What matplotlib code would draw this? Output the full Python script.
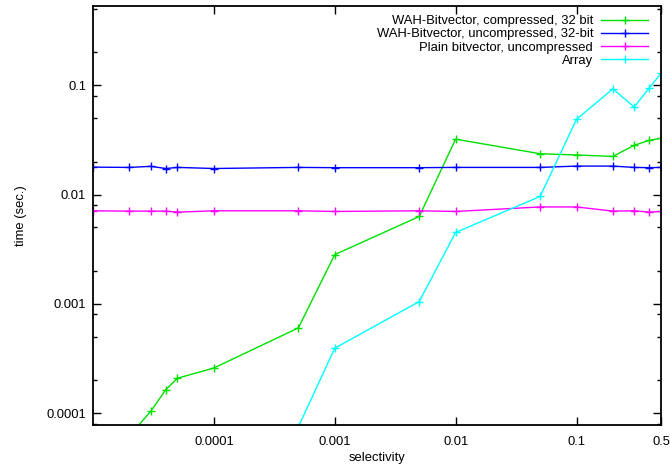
import numpy as np
import matplotlib
matplotlib.use('Agg')
from matplotlib import pyplot as plt
from matplotlib.ticker import FixedLocator, NullFormatter

####################################
#              data                #
####################################
sel = [1e-5, 2e-5, 3e-5, 4e-5, 5e-5, 1e-4, 5e-4, 1e-3, 5e-3, 1e-2,
       5e-2, 0.1, 0.2, 0.3, 0.4, 0.5]

wah_comp = [3.0e-5, 6.2e-5, 1.04e-4, 1.64e-4, 2.09e-4, 2.59e-4, 6.03e-4, 2.82e-3,
            6.3e-3, 0.0321, 0.0236, 0.0230, 0.0223, 0.0282, 0.0313, 0.0327]

wah_uncomp = [0.0178, 0.0177, 0.0181, 0.0173, 0.0177, 0.0173, 0.0177, 0.0176,
              0.0176, 0.0177, 0.0177, 0.0182, 0.0182, 0.0177, 0.0176, 0.0177]

plain_bv = [7.1e-3, 7.05e-3, 7.05e-3, 7.05e-3, 6.9e-3, 7.1e-3, 7.1e-3, 7.0e-3,
            7.1e-3, 7.0e-3, 7.7e-3, 7.7e-3, 7.05e-3, 7.1e-3, 6.9e-3, 7.0e-3]

array_sel = [5e-4, 1e-3, 5e-3, 1e-2, 5e-2, 0.1, 0.2, 0.3, 0.4, 0.5]
array_t = [7.5e-5, 3.93e-4, 1.05e-3, 4.5e-3, 9.6e-3, 0.0488, 0.0925, 0.0632, 0.0944, 0.128]

labels = ['WAH-Bitvector, compressed, 32 bit',
          'WAH-Bitvector, uncompressed, 32-bit',
          'Plain bitvector, uncompressed',
          'Array']

xticks = [1e-4, 1e-3, 1e-2, 0.1, 0.5]
xticklabels = ['0.0001', '0.001', '0.01', '0.1', '0.5']
yticks = [1e-4, 1e-3, 1e-2, 0.1]
yticklabels = ['0.0001', '0.001', '0.01', '0.1']

####################################
#              plot                #
####################################
plt.rcParams['font.family'] = ['Liberation Sans', 'DejaVu Sans']
fs = 9.4

fig = plt.figure(figsize=(6.7, 4.7), dpi=100)
ax = fig.add_axes([93/670, 1 - 425/470, (661 - 93)/670, (425 - 6)/470])

style = dict(lw=1.0, marker='+', ms=6, mew=1.0)
ax.plot(sel, wah_comp, color='#00e000', label=labels[0], **style)
ax.plot(sel, wah_uncomp, color='#0000ff', label=labels[1], **style)
ax.plot(sel, plain_bv, color='#ff00ff', label=labels[2], **style)
ax.plot(array_sel, array_t, color='#00ffff', label=labels[3], **style)

ax.set_xscale('log')
ax.set_yscale('log')
ax.set_xlim(1e-5, 0.5)
ax.set_ylim(7.8e-5, 0.53)

ax.xaxis.set_major_locator(FixedLocator(xticks))
ax.set_xticklabels(xticklabels)
ax.xaxis.set_minor_locator(FixedLocator([]))
ax.yaxis.set_major_locator(FixedLocator(yticks))
ax.set_yticklabels(yticklabels)
ymin = [m * d for d in [1e-5, 1e-4, 1e-3, 1e-2, 1e-1] for m in (2, 5, 8)]
ax.yaxis.set_minor_locator(FixedLocator(ymin))
ax.yaxis.set_minor_formatter(NullFormatter())

ax.tick_params(which='both', direction='in', top=True, right=True,
               labelsize=fs, colors='black', width=1.0, pad=5)
ax.tick_params(which='major', length=6)
ax.tick_params(which='minor', length=3)
ax.tick_params(axis='x', pad=8)
for s in ax.spines.values():
    s.set_linewidth(1.3)

ax.set_xlabel('selectivity', size=fs, labelpad=3)
ax.set_ylabel('time (sec.)', size=fs, labelpad=14)

ax.legend(loc='upper right', bbox_to_anchor=((648 - 93)/568, 1 - 9/419),
          frameon=False, markerfirst=False, alignment='right',
          fontsize=fs, handlelength=3.6, handletextpad=0.6,
          labelspacing=0.08, borderpad=0, borderaxespad=0)

plt.savefig('out.png', dpi=100)
